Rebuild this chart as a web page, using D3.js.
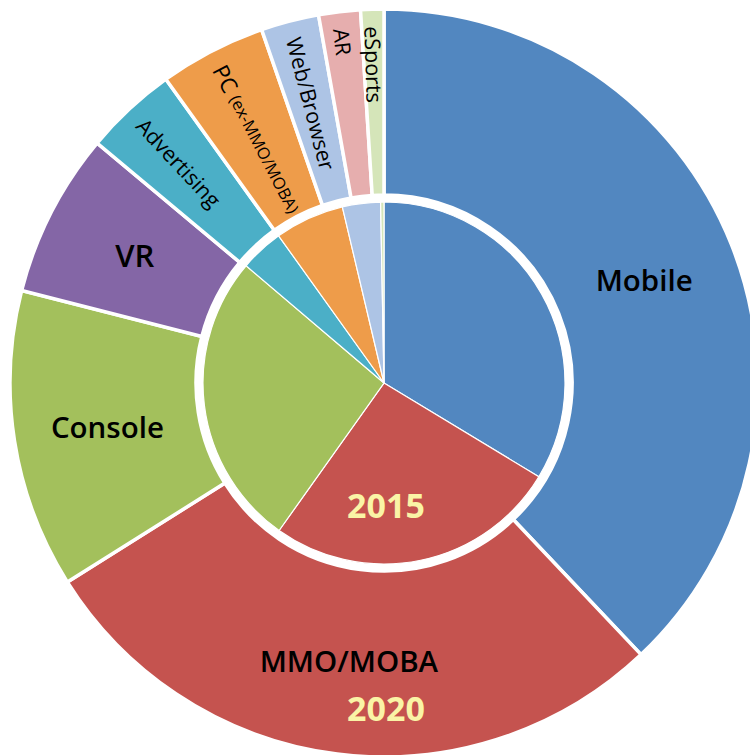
<!DOCTYPE html>
<html>
  <head>
    <meta charset="utf-8">
    <style>
      body { margin: 0; background: #fff; }
      svg { display: block; }
      text { font-family: "Open Sans", "Noto Sans", sans-serif; }
    </style>
    <title>Games market share 2015 / 2020</title>
  </head>
  <body>
    <script src="https://cdn.jsdelivr.net/npm/d3@7"></script>
    <script>

/*========== Data ==========*/
const categories = ["Mobile", "MMO/MOBA", "Console", "VR", "Advertising", "PC", "Web/Browser", "AR", "eSports"];
const values2015 = [33.7, 26.2, 26.4, 0, 3.9, 6.2, 3.4, 0, 0.3];
const values2020 = [37.9, 28.1, 12.9, 7.1, 4.0, 4.6, 2.5, 1.8, 1.0];
const colors = ["#5287c0", "#c5534f", "#a3c05c", "#8466a6", "#4bafc7", "#ee9c4a", "#adc4e5", "#e6aeae", "#d5e5b9"];
const years = ["2015", "2020"];

/*========== Zones ==========*/
const width = 750, height = 755;
const cx = 384, cy = 383;
const rPie = 181, rRingIn = 188, rRingOut = 374;

const svg = d3.select("body").append("svg")
    .attr("width", width)
    .attr("height", height);
const g = svg.append("g")
    .attr("transform", `translate(${cx},${cy})`);

const rows2015 = categories.map((c, i) => ({cat: c, i: i, v: values2015[i]}));
const rows2020 = categories.map((c, i) => ({cat: c, i: i, v: values2020[i]}));

const pie = d3.pie().sort(null).value(d => d.v);
const arcIn = d3.arc().innerRadius(0).outerRadius(rPie);
const arcOut = d3.arc().innerRadius(rRingIn).outerRadius(rRingOut);

// outer ring (2020)
g.append("g").selectAll("path")
  .data(pie(rows2020).filter(d => d.data.v > 0))
  .enter().append("path")
    .attr("d", arcOut)
    .attr("fill", d => colors[d.data.i])
    .attr("stroke", "#fff")
    .attr("stroke-width", 3.5);

// inner pie (2015)
g.append("g").selectAll("path")
  .data(pie(rows2015).filter(d => d.data.v > 0))
  .enter().append("path")
    .attr("d", arcIn)
    .attr("fill", d => colors[d.data.i])
    .attr("stroke", "#fff")
    .attr("stroke-width", 1.2);

/*========== Labels ==========*/
const flatLabels = ["Mobile", "MMO/MOBA", "Console", "VR"];
const rFlat = 280, rRadialStart = 357;
const deg = a => a * 180 / Math.PI;

const outerArcs = pie(rows2020);
outerArcs.forEach(d => {
  const mid = (d.startAngle + d.endAngle) / 2;
  if (flatLabels.indexOf(d.data.cat) != -1) {
    g.append("text")
        .attr("x", rFlat * Math.sin(mid))
        .attr("y", -rFlat * Math.cos(mid))
        .attr("text-anchor", "middle")
        .attr("dominant-baseline", "central")
        .attr("font-weight", 600)
        .attr("font-size", d.data.cat == "VR" ? 31 : 29.5)
        .attr("fill", "#000")
      .text(d.data.cat);
  } else {
    // radial label, reading inward
    const t = g.append("text")
        .attr("transform", `translate(${rRadialStart * Math.sin(mid)},${-rRadialStart * Math.cos(mid)}) rotate(${deg(mid) + 90})`)
        .attr("text-anchor", "start")
        .attr("dominant-baseline", "central")
        .attr("font-size", 21.5)
        .attr("fill", "#000");
    if (d.data.cat == "PC") {
      t.append("tspan").attr("font-size", 22.5).text("PC ");
      t.append("tspan").attr("font-size", 16.5).text("(ex-MMO/MOBA)");
    } else {
      t.text(d.data.cat);
    }
  }
});

// year labels
svg.selectAll(".year")
  .data(years)
  .enter().append("text")
    .attr("class", "year")
    .attr("x", cx + 2)
    .attr("y", (d, i) => cy + (i == 0 ? 122 : 325))
    .attr("text-anchor", "middle")
    .attr("dominant-baseline", "central")
    .attr("font-weight", 700)
    .attr("font-size", 34)
    .attr("fill", "#faf4a6")
  .text(d => d);

    </script>
  </body>
</html>
